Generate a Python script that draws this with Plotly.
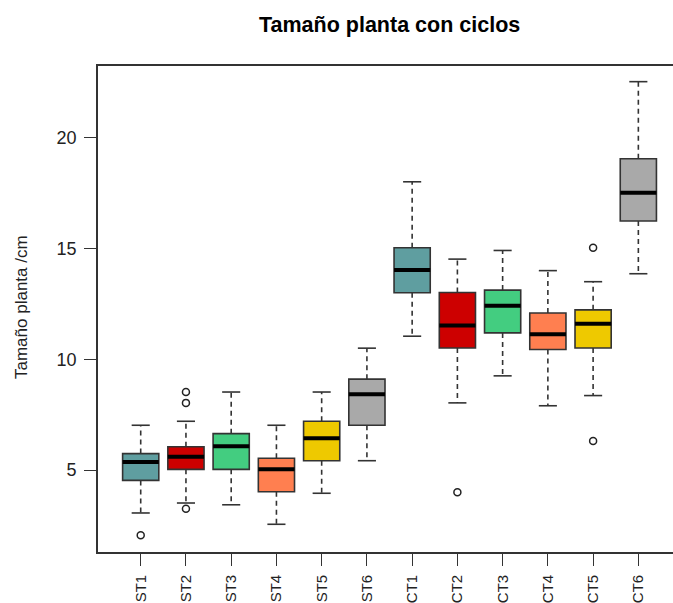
import plotly.graph_objects as go

# Groups: without cycles (ST) and with cycles (CT)
labels = ["ST1", "ST2", "ST3", "ST4", "ST5", "ST6",
          "CT1", "CT2", "CT3", "CT4", "CT5", "CT6"]

# Box statistics (cm)
q1 = [4.53, 5.03, 5.03, 4.02, 5.42, 7.02, 13.00, 10.51, 11.19, 10.44, 10.51, 16.24]
median = [5.36, 5.60, 6.07, 5.03, 6.43, 8.42, 14.03, 11.52, 12.42, 11.13, 11.60, 17.52]
q3 = [5.74, 6.05, 6.64, 5.53, 7.20, 9.10, 15.03, 13.01, 13.12, 12.09, 12.23, 19.05]
whisker_low = [3.06, 3.51, 3.43, 2.55, 3.95, 5.42, 11.04, 8.03, 9.25, 7.90, 8.36, 13.86]
whisker_high = [7.02, 7.20, 8.52, 7.02, 8.52, 10.50, 18.01, 14.52, 14.91, 14.00, 13.50, 22.53]

# Outlying observations per group
outliers = {
    "ST1": [2.05],
    "ST2": [8.52, 8.03, 3.25],
    "CT2": [4.00],
    "CT5": [15.03, 6.31],
}

palette = ["#5F9EA0", "#CD0000", "#43CD80", "#FF7F50", "#EEC900", "#A9A9A9"]
colors = palette + palette

BOX_W = 0.8
STAPLE_W = 0.4
EDGE = "#333333"
FONT = "Liberation Sans, Arial, sans-serif"

fig = go.Figure()
positions = list(range(1, len(labels) + 1))

# dashed whiskers (box edge -> whisker end)
wx, wy = [], []
for p, lo, a, b, hi in zip(positions, whisker_low, q1, q3, whisker_high):
    wx += [p, p, None, p, p, None]
    wy += [b, hi, None, a, lo, None]
fig.add_trace(go.Scatter(x=wx, y=wy, mode="lines", hoverinfo="skip",
                         line=dict(color=EDGE, width=1.6, dash="5px,4px"),
                         showlegend=False))

# staples at whisker ends
sx, sy = [], []
for p, lo, hi in zip(positions, whisker_low, whisker_high):
    sx += [p - STAPLE_W / 2, p + STAPLE_W / 2, None, p - STAPLE_W / 2, p + STAPLE_W / 2, None]
    sy += [hi, hi, None, lo, lo, None]
fig.add_trace(go.Scatter(x=sx, y=sy, mode="lines", hoverinfo="skip",
                         line=dict(color=EDGE, width=1.6), showlegend=False))

# boxes
for p, lab, a, m, b, c in zip(positions, labels, q1, median, q3, colors):
    fig.add_trace(go.Box(
        x=[p], q1=[a], median=[m], q3=[b], lowerfence=[a], upperfence=[b],
        width=BOX_W, whiskerwidth=0, fillcolor=c,
        line=dict(color=EDGE, width=1.6), name=lab, showlegend=False,
        boxpoints=False,
    ))

# thick median bars
mx, my = [], []
for p, m in zip(positions, median):
    mx += [p - BOX_W / 2, p + BOX_W / 2, None]
    my += [m, m, None]
fig.add_trace(go.Scatter(x=mx, y=my, mode="lines", hoverinfo="skip",
                         line=dict(color="black", width=4), showlegend=False))

# outliers
ox, oy = [], []
for lab, vals in outliers.items():
    p = positions[labels.index(lab)]
    ox += [p] * len(vals)
    oy += vals
fig.add_trace(go.Scatter(x=ox, y=oy, mode="markers", showlegend=False,
                         marker=dict(symbol="circle-open", size=7,
                                     color="#222222", line=dict(width=1.5))))

fig.update_layout(
    width=673, height=603,
    margin=dict(l=98, r=0, t=66, b=51),
    paper_bgcolor="white", plot_bgcolor="white",
    boxmode="overlay",
    font=dict(family=FONT, color="#222222"),
    xaxis=dict(
        range=[0.056, 12.766], tickmode="array", tickvals=positions,
        ticktext=labels, tickangle=-90, ticks="outside", ticklen=12,
        tickwidth=1.3, tickcolor=EDGE, showline=True, linecolor=EDGE,
        linewidth=1.6, mirror=True, showgrid=False, zeroline=False,
        tickfont=dict(size=15, family=FONT, color="#222222"),
        ticklabelstandoff=3,
    ),
    yaxis=dict(
        range=[1.2985, 23.237], tickmode="array", tickvals=[5, 10, 15, 20],
        ticks="outside", ticklen=12, tickwidth=1.3, tickcolor=EDGE,
        showline=True, linecolor=EDGE, linewidth=1.6, mirror=False,
        showgrid=False, zeroline=False,
        tickfont=dict(size=18, family=FONT, color="#222222"),
        ticklabelstandoff=4,
    ),
    annotations=[
        dict(text="<b>Tamaño planta con ciclos</b>", xref="paper", yref="paper",
             x=(389 - 98) / 575, y=(552 - 25) / 486, xanchor="center",
             yanchor="middle", showarrow=False,
             font=dict(size=21.5, family=FONT, color="black")),
        dict(text="Tamaño planta /cm", xref="paper", yref="paper",
             x=(21 - 98) / 575, y=(552 - 307) / 486, xanchor="center",
             yanchor="middle", textangle=-90, showarrow=False,
             font=dict(size=17, family=FONT, color="#222222")),
    ],
)

fig.write_html("out.html")
